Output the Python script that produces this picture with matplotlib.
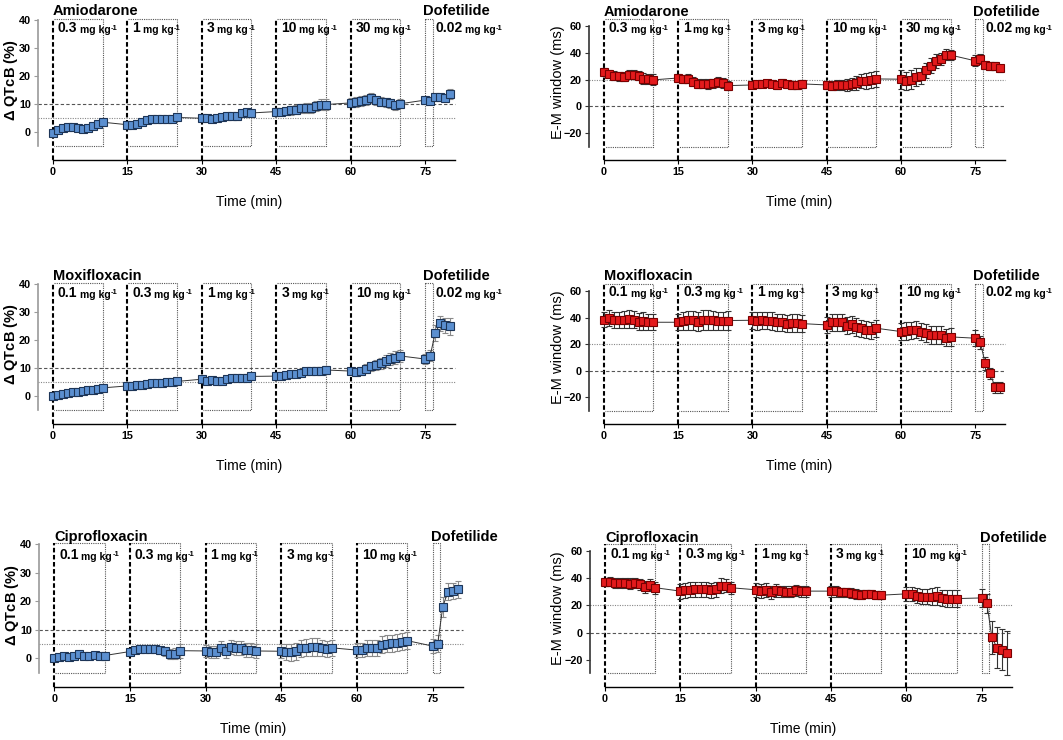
import numpy as np
import matplotlib
matplotlib.use("Agg")
import matplotlib.pyplot as plt

plt.rcParams['font.family'] = ['Liberation Sans', 'DejaVu Sans']
plt.rcParams['mathtext.fontset'] = 'custom'
plt.rcParams['mathtext.rm'] = 'Liberation Sans'
plt.rcParams['mathtext.bf'] = 'Liberation Sans:bold'
plt.rcParams['mathtext.default'] = 'regular'

# sampling minutes: five 10-min dose periods + dofetilide
time_min = [0, 1, 2, 3, 4, 5, 6, 7, 8, 9, 10,
            15, 16, 17, 18, 19, 20, 21, 22, 23, 24, 25,
            30, 31, 32, 33, 34, 35, 36, 37, 38, 39, 40,
            45, 46, 47, 48, 49, 50, 51, 52, 53, 54, 55,
            60, 61, 62, 63, 64, 65, 66, 67, 68, 69, 70,
            75, 76, 77, 78, 79, 80]
dose_start = [0, 15, 30, 45, 60]
xticks = [0, 15, 30, 45, 60, 75]

drugs = ["Amiodarone", "Moxifloxacin", "Ciprofloxacin"]
doses = [["0.3", "1", "3", "10", "30"],
         ["0.1", "0.3", "1", "3", "10"],
         ["0.1", "0.3", "1", "3", "10"]]
dof_dose = ["0.02", "0.02", None]

# delta QTcB (%)
amio_qtc = [-0.2, 0.6, 1.3, 1.7, 1.9, 1.5, 1.0, 1.5, 2.3, 3.0, 3.5,
            2.6, 2.6, 2.7, 3.5, 4.3, 4.6, 4.7, 4.8, 4.7, 4.8, 5.2,
            4.9, 5.0, 4.6, 5.0, 5.2, 5.8, 5.7, 5.6, 6.8, 7.0, 6.8,
            7.3, 7.2, 7.5, 7.7, 8.0, 8.4, 8.5, 8.7, 9.3, 9.7, 9.8,
            10.4, 10.7, 11.0, 11.3, 12.2, 11.3, 10.8, 10.6, 10.2, 9.5, 10.1,
            11.4, 11.2, 12.6, 12.6, 12.3, 13.6]
amio_qtc_err = [0.4, 0.5, 0.5, 0.6, 0.6, 0.6, 0.6, 0.6, 0.6, 0.7, 0.8,
                0.6, 0.6, 0.6, 0.7, 0.7, 0.7, 0.7, 0.7, 0.7, 0.7, 0.8,
                0.8, 0.8, 0.8, 0.9, 0.9, 1.0, 1.0, 1.2, 1.0, 1.0, 1.1,
                1.2, 1.3, 1.4, 1.5, 1.6, 1.7, 1.8, 1.8, 1.9, 2.0, 1.9,
                1.6, 1.7, 1.8, 1.8, 1.8, 1.7, 1.6, 1.6, 1.7, 1.7, 1.6,
                1.2, 1.2, 1.0, 1.0, 1.2, 1.8]
moxi_qtc = [0.0, 0.5, 0.8, 1.0, 1.3, 1.5, 1.8, 2.0, 2.3, 2.5, 2.9,
            3.6, 3.5, 3.9, 4.1, 4.2, 4.6, 4.7, 4.8, 4.9, 5.0, 5.2,
            6.0, 5.5, 5.7, 5.5, 5.5, 6.2, 6.3, 6.3, 6.5, 6.5, 7.0,
            7.1, 7.3, 7.6, 7.7, 7.9, 8.1, 8.8, 8.9, 9.0, 9.1, 9.3,
            8.9, 8.6, 9.0, 9.7, 10.6, 11.1, 11.7, 12.5, 13.1, 13.7, 14.3,
            13.2, 14.4, 22.5, 25.9, 25.2, 24.9]
moxi_qtc_err = [0.3, 0.4, 0.4, 0.4, 0.4, 0.4, 0.5, 0.5, 0.5, 0.5, 0.6,
                0.5, 0.5, 0.5, 0.6, 0.6, 0.6, 0.6, 0.6, 0.6, 0.7, 0.7,
                0.7, 0.7, 0.7, 0.7, 0.7, 0.7, 0.7, 0.7, 0.8, 0.8, 0.8,
                0.8, 0.8, 0.9, 0.9, 1.0, 1.0, 1.1, 1.2, 1.3, 1.4, 1.5,
                1.2, 1.3, 1.5, 1.6, 1.7, 1.8, 1.9, 2.0, 2.1, 2.2, 2.2,
                1.8, 2.0, 3.0, 2.8, 2.8, 3.0]
cipro_qtc = [0.0, 0.6, 0.7, 0.6, 1.0, 1.4, 0.9, 0.8, 1.1, 1.0, 1.0,
             2.4, 3.0, 3.2, 3.2, 3.3, 3.4, 2.8, 2.5, 1.5, 1.7, 2.7,
             2.6, 2.3, 2.2, 3.8, 2.6, 4.0, 3.6, 3.7, 3.0, 3.0, 2.6,
             2.5, 2.2, 2.2, 2.5, 3.6, 3.8, 4.0, 4.0, 3.5, 3.4, 3.7,
             2.9, 2.9, 3.6, 3.7, 3.6, 4.8, 5.2, 5.3, 5.5, 5.8, 6.2,
             4.3, 5.2, 18.0, 23.3, 23.6, 24.2]
cipro_qtc_err = [0.4, 0.4, 0.4, 0.4, 0.5, 0.5, 0.5, 0.5, 0.5, 0.5, 0.5,
                 0.8, 0.9, 1.0, 1.0, 1.0, 1.0, 1.2, 1.5, 1.8, 2.0, 2.5,
                 2.0, 2.0, 2.0, 2.2, 2.3, 2.5, 2.5, 2.5, 2.5, 2.5, 2.5,
                 2.5, 2.8, 3.0, 3.0, 3.0, 3.0, 3.0, 3.0, 2.8, 2.8, 2.8,
                 2.5, 2.5, 2.8, 2.8, 2.8, 3.0, 3.0, 3.0, 3.0, 3.0, 3.0,
                 2.5, 3.0, 3.5, 3.0, 2.8, 3.0]

# E-M window (ms)
amio_em = [26.0, 24.5, 23.0, 22.5, 22.3, 23.5, 23.8, 23.0, 20.8, 20.5, 19.8,
           21.2, 20.5, 20.8, 18.5, 17.0, 17.0, 16.8, 17.2, 18.2, 17.5, 15.5,
           16.0, 16.8, 17.0, 17.3, 17.0, 16.0, 17.3, 16.5, 16.0, 16.0, 16.8,
           16.0, 15.5, 16.0, 16.0, 16.0, 16.5, 17.5, 19.0, 19.0, 19.5, 20.5,
           20.3, 19.0, 19.8, 22.0, 23.0, 27.0, 30.5, 34.0, 35.5, 38.5, 38.3,
           34.0, 35.5, 31.0, 30.5, 30.2, 28.5]
amio_em_err = [3.0, 3.0, 3.2, 3.2, 3.3, 3.3, 3.3, 3.5, 3.8, 4.0, 4.2,
               3.0, 3.0, 3.2, 3.5, 3.6, 3.6, 3.5, 3.5, 3.5, 3.5, 3.5,
               2.5, 2.5, 2.5, 2.5, 2.6, 2.7, 2.8, 2.8, 2.8, 2.8, 2.8,
               3.0, 3.5, 3.8, 4.0, 4.2, 4.5, 5.0, 5.5, 5.8, 6.0, 6.2,
               7.0, 7.0, 7.0, 6.5, 6.0, 5.5, 5.5, 5.0, 4.5, 4.0, 4.0,
               4.0, 3.5, 3.0, 3.0, 2.8, 2.5]
moxi_em = [38.5, 39.5, 38.5, 38.0, 38.5, 39.0, 38.5, 37.0, 37.5, 36.5, 36.5,
           36.5, 37.5, 38.0, 38.0, 37.0, 38.5, 38.5, 38.0, 37.5, 37.5, 37.8,
           38.0, 37.5, 38.0, 37.8, 37.5, 36.5, 36.5, 35.5, 36.0, 36.0, 35.5,
           34.5, 36.5, 36.5, 36.5, 34.0, 35.0, 33.0, 32.0, 31.0, 30.5, 32.0,
           29.5, 30.0, 30.5, 31.0, 29.5, 28.5, 27.0, 27.0, 27.0, 25.0, 25.5,
           24.5, 21.5, 5.5, -2.0, -12.5, -12.5]
moxi_em_err = [5.5, 6.0, 6.0, 6.0, 6.5, 6.5, 6.5, 6.5, 6.5, 6.0, 6.0,
               6.0, 6.5, 7.0, 7.0, 7.0, 7.5, 7.5, 7.0, 7.0, 7.0, 7.0,
               6.5, 6.5, 6.5, 6.5, 6.5, 6.5, 6.5, 6.5, 6.5, 6.5, 6.5,
               6.0, 6.5, 6.5, 6.5, 6.5, 6.5, 6.5, 6.5, 6.5, 6.5, 6.5,
               6.5, 6.5, 6.5, 6.5, 6.5, 6.5, 6.5, 6.5, 6.5, 6.5, 6.5,
               6.0, 5.0, 5.0, 4.0, 4.0, 4.0]
cipro_em = [37.5, 37.5, 36.5, 36.5, 36.5, 36.0, 36.5, 35.5, 33.5, 35.0, 33.0,
            30.5, 31.0, 31.5, 32.0, 32.0, 32.0, 31.0, 32.0, 34.5, 34.5, 33.0,
            31.5, 30.5, 31.5, 29.5, 31.0, 30.5, 30.0, 30.0, 31.0, 30.5, 30.5,
            30.5, 30.5, 29.5, 29.5, 29.0, 28.5, 28.0, 28.5, 28.5, 27.5, 27.5,
            28.5, 28.5, 27.0, 26.5, 26.5, 26.5, 27.0, 25.5, 25.0, 25.0, 25.0,
            25.5, 21.5, -3.5, -11.0, -12.5, -15.0]
cipro_em_err = [3.0, 3.5, 3.5, 3.5, 3.5, 3.8, 4.0, 4.0, 4.5, 4.5, 4.5,
                5.5, 5.5, 5.5, 5.5, 5.5, 5.5, 5.5, 5.5, 5.5, 5.0, 4.5,
                5.0, 5.0, 5.0, 5.0, 4.5, 4.0, 4.0, 4.0, 4.0, 4.0, 4.0,
                4.0, 4.0, 3.5, 3.5, 3.5, 3.5, 3.5, 3.0, 3.0, 3.0, 3.0,
                5.0, 5.0, 5.5, 5.5, 5.5, 6.0, 6.5, 6.0, 6.0, 6.0, 6.0,
                6.5, 7.0, 12.0, 15.0, 15.0, 16.0]

qtc_series = [(amio_qtc, amio_qtc_err), (moxi_qtc, moxi_qtc_err), (cipro_qtc, cipro_qtc_err)]
em_series = [(amio_em, amio_em_err), (moxi_em, moxi_em_err), (cipro_em, cipro_em_err)]

fig = plt.figure(figsize=(10.63, 7.40), dpi=100)
W, H = 1063.0, 740.0

# pixel boxes: (left, bottom-from-top, width, height)
left_boxes = [(38, 160, 422, 140), (38, 424, 422, 140), (39, 687, 429, 143)]
right_boxes = [(589, 160, 421, 134), (589, 424, 421, 133), (590, 687, 427, 136)]
name_y_left = [1.036, 1.03, 1.02]
name_y_right = [1.075, 1.083, 1.066]
dose_y_left = [0.89, 0.886, 0.874]
dose_y_right = [0.93, 0.94, 0.926]


def add_dose_label(ax, x, y, num):
    t = ax.text(x, y, num, transform=ax.get_xaxis_transform(), fontsize=10,
                fontweight='bold', va='bottom', ha='left', clip_on=False)
    u = ax.annotate("mg kg", xy=(1, 0), xycoords=t, xytext=(1.8, 0),
                    textcoords='offset points', fontsize=7.5, fontweight='bold',
                    va='bottom', ha='left', annotation_clip=False)
    ax.annotate("-1", xy=(1, 1), xycoords=u, xytext=(0.3, 0.5),
                textcoords='offset points', fontsize=5.5, fontweight='bold',
                va='top', ha='left', annotation_clip=False)


def draw_panel(ax, row, y, err, kind):
    if kind == 'qtc':
        ylo, yhi, spine_lo, spine_hi = -10, 40, -5, 40
        box_lo, box_hi = -5, 40.3
        yt = [0, 10, 20, 30, 40]
        mfc, mec, ecol = '#5b8fd0', '#1d3557', '#8a8a8a'
        spine_col = '#9a9a9a'
        ylabel = r"$\Delta$ QTcB (%)"
        name_y, dose_y = name_y_left[row], dose_y_left[row]
        ax.axhline(10, color='#555555', lw=0.8, ls=(0, (3, 2)), xmax=0.988)
        ax.axhline(5, color='#888888', lw=0.8, ls=(0, (1, 1.2)), xmax=0.988)
    else:
        ylo, yhi, spine_lo, spine_hi = -40, 60, -30, 60
        box_lo, box_hi = -30, 65
        yt = [-20, 0, 20, 40, 60]
        mfc, mec, ecol = '#e31a1c', '#7a0000', '#333333'
        spine_col = '#333333'
        ylabel = "E-M window (ms)"
        name_y, dose_y = name_y_right[row], dose_y_right[row]
        ax.axhline(20, color='#888888', lw=0.8, ls=(0, (1, 1.2)), xmax=0.988)
        ax.axhline(0, color='#555555', lw=0.8, ls=(0, (3, 2)), xmax=0.988)

    ax.set_xlim(-3, 82)
    ax.set_ylim(ylo, yhi)

    # dose period boxes
    for s in dose_start:
        ax.plot([s + 0.15, s + 10, s + 10, s + 0.15], [box_hi, box_hi, box_lo, box_lo],
                color='#555555', lw=0.8, ls=(0, (1, 1)), clip_on=False, zorder=1)
        ax.plot([s, s], [ylo, box_hi], color='black', lw=1.5, ls=(0, (2.2, 1.2)),
                clip_on=False, zorder=1)
    ax.plot([75, 76.5, 76.5, 75, 75], [box_hi, box_hi, box_lo, box_lo, box_hi],
            color='#555555', lw=0.8, ls=(0, (1, 1)), clip_on=False, zorder=1)

    ax.errorbar(time_min, y, yerr=err, fmt='s-', color='#333333', lw=0.7,
                ms=5.8, mfc=mfc, mec=mec, mew=0.8, ecolor=ecol, elinewidth=0.8,
                capsize=2.2, capthick=0.8, zorder=3, clip_on=False)

    ax.spines['top'].set_visible(False)
    ax.spines['right'].set_visible(False)
    ax.spines['bottom'].set_bounds(0, 81)
    ax.spines['bottom'].set_linewidth(1.0)
    ax.spines['left'].set_bounds(spine_lo, spine_hi)
    ax.spines['left'].set_color(spine_col)
    ax.spines['left'].set_linewidth(1.2)
    ax.set_xticks(xticks)
    ax.set_yticks(yt)
    ax.tick_params(axis='both', length=3, width=0.8, labelsize=7.8, pad=2)
    ax.tick_params(axis='y', color=spine_col)
    for lab in ax.get_xticklabels() + ax.get_yticklabels():
        lab.set_fontweight('bold')

    ax.set_xlabel("Time (min)", fontsize=10, labelpad=13)
    if kind == 'qtc':
        ax.set_ylabel(ylabel, fontsize=10.5, fontweight='bold')
        ax.yaxis.set_label_coords(-0.042, 0.57)
    else:
        ax.set_ylabel(ylabel, fontsize=10.5)
        ax.yaxis.set_label_coords(-0.058, 0.58)

    tr = ax.get_xaxis_transform()
    ax.text(0, name_y, drugs[row], transform=tr, fontsize=10.5, fontweight='bold',
            va='baseline', ha='left', clip_on=False)
    ax.text(74.6, name_y, "Dofetilide", transform=tr, fontsize=10.5,
            fontweight='bold', va='baseline', ha='left', clip_on=False)
    for s, d in zip(dose_start, doses[row]):
        add_dose_label(ax, s + 1.0, dose_y, d)
    if dof_dose[row] is not None:
        add_dose_label(ax, 77.0, dose_y, dof_dose[row])


for row in range(3):
    l, b, w, h = left_boxes[row]
    ax = fig.add_axes([l / W, (H - b) / H, w / W, h / H])
    draw_panel(ax, row, qtc_series[row][0], qtc_series[row][1], 'qtc')
    l, b, w, h = right_boxes[row]
    ax = fig.add_axes([l / W, (H - b) / H, w / W, h / H])
    draw_panel(ax, row, em_series[row][0], em_series[row][1], 'em')

fig.savefig("out.png", dpi=100)
